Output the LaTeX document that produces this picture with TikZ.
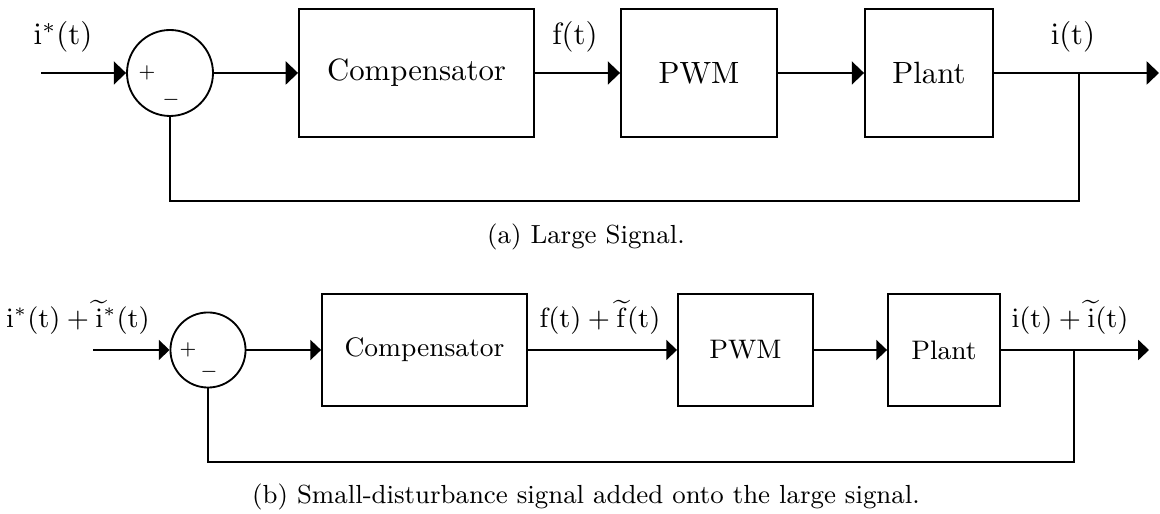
\documentclass[tikz,border=0pt]{standalone}
\usetikzlibrary{arrows.meta}
\begin{document}
\begin{tikzpicture}[x=0.325pt,y=-0.325pt, line width=0.6pt,
  blk/.style={draw, rectangle, inner sep=0pt},
  sumc/.style={draw, circle, inner sep=0pt},
  arA/.style={-{Triangle[length=4pt,width=7.5pt]}},
  arB/.style={-{Triangle[length=3.5pt,width=6.5pt]}},
  lab/.style={anchor=base, inner sep=0pt},
  sgn/.style={inner sep=0pt, font=\fontsize{6}{7}\selectfont},
  small/.style={font=\fontsize{8.7}{10}\selectfont},
  captxt/.style={anchor=base, inner sep=0pt, font=\fontsize{8.5}{10}\selectfont}]
\useasboundingbox (0,0) rectangle (1160,514);

% ---------- (a) ----------
\node[sumc, minimum size=27.95pt] (sum1) at (170,73) {};
\node[sgn] (p1) at (147,73) {$+$};
\node[sgn] (m1) at (171,100) {$-$};
\node[blk, minimum width=76.4pt, minimum height=41.6pt] (comp1) at (416.5,73) {Compensator};
\node[blk, minimum width=50.7pt, minimum height=41.6pt] (pwm1) at (699,73) {PWM};
\node[blk, minimum width=41.6pt, minimum height=41.6pt] (plant1) at (929,73) {Plant};
\coordinate (in1) at (41,73);
\coordinate (br1) at (1079,73);
\coordinate (out1) at (1159,73);
\coordinate (fb1) at (1079,201);
\node[lab] (l1) at (63,45) {$\mathrm{i}^*(\mathrm{t})$};
\node[lab] (l2) at (575,45) {$\mathrm{f}(\mathrm{t})$};
\node[lab] (l3) at (1073,45) {$\mathrm{i}(\mathrm{t})$};
\draw[arA] (in1) -- (sum1.west);
\draw[arA] (sum1.east) -- (comp1.west);
\draw[arA] (comp1.east) -- (pwm1.west);
\draw[arA] (pwm1.east) -- (plant1.west);
\draw[arA] (plant1.east) -- (out1);
\draw (br1) -- (fb1) -| (sum1.south);
\node[captxt] (capa) at (586,244) {(a) Large Signal.};

% ---------- (b) ----------
\begin{scope}[small]
\node[sumc, minimum size=24.4pt] (sum2) at (208,350) {};
\node[sgn] (p2) at (188,350) {$+$};
\node[sgn] (m2) at (209,372) {$-$};
\node[blk, minimum width=66.6pt, minimum height=36.4pt] (comp2) at (424.5,350) {Compensator};
\node[blk, minimum width=43.9pt, minimum height=36.4pt] (pwm2) at (745.5,350) {PWM};
\node[blk, minimum width=36.4pt, minimum height=36.4pt] (plant2) at (944,350) {Plant};
\coordinate (in2) at (93,350);
\coordinate (br2) at (1074,350);
\coordinate (out2) at (1149,350);
\coordinate (fb2) at (1074,462);
\node[lab] (l4) at (78,328) {$\mathrm{i}^*(\mathrm{t})+\widetilde{\mathrm{i}}^*(\mathrm{t})$};
\node[lab] (l5) at (600,328) {$\mathrm{f}(\mathrm{t})+\widetilde{\mathrm{f}}(\mathrm{t})$};
\node[lab] (l6) at (1070,328) {$\mathrm{i}(\mathrm{t})+\widetilde{\mathrm{i}}(\mathrm{t})$};
\draw[arB] (in2) -- (sum2.west);
\draw[arB] (sum2.east) -- (comp2.west);
\draw[arB] (comp2.east) -- (pwm2.west);
\draw[arB] (pwm2.east) -- (plant2.west);
\draw[arB] (plant2.east) -- (out2);
\draw (br2) -- (fb2) -| (sum2.south);
\end{scope}
\node[captxt] (capb) at (586,504) {(b) Small-disturbance signal added onto the large signal.};
\end{tikzpicture}
\end{document}
